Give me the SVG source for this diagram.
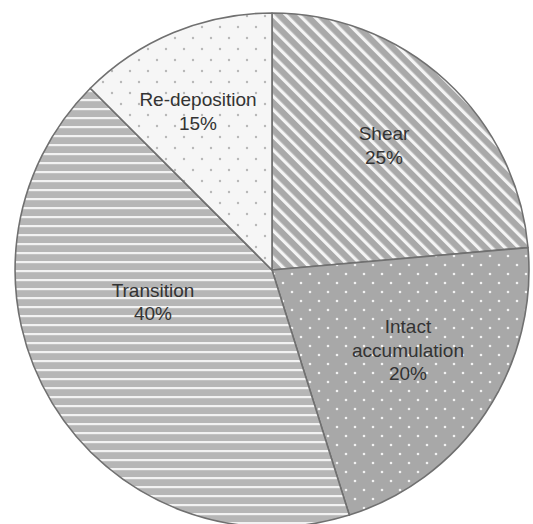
<svg xmlns="http://www.w3.org/2000/svg" width="533" height="524" viewBox="0 0 533 524">
<style>
.slice{stroke:#707070;stroke-width:1.6;stroke-linejoin:round}
.lbl{font-family:"Liberation Sans",Arial,sans-serif;font-size:19px;fill:#333;text-anchor:middle}
</style>
<defs>
<pattern id="pShear" patternUnits="userSpaceOnUse" width="9.5" height="20" patternTransform="rotate(-45)">
<rect width="9.5" height="20" fill="#a9a9a9"/>
<rect x="0" width="3.2" height="20" fill="#f4f4f4"/>
</pattern>
<pattern id="pTrans" patternUnits="userSpaceOnUse" width="20" height="9">
<rect width="20" height="9" fill="#b6b6b6"/>
<rect y="0" width="20" height="2.2" fill="#f2f2f2"/>
</pattern>
<pattern id="pIntact" patternUnits="userSpaceOnUse" width="18" height="18">
<rect width="18" height="18" fill="#a8a8a8"/>
<circle cx="4" cy="4" r="1.3" fill="#f2f2f2"/>
<circle cx="13" cy="13" r="1.3" fill="#f2f2f2"/>
</pattern>
<pattern id="pRedep" patternUnits="userSpaceOnUse" width="18" height="22">
<rect width="18" height="22" fill="#f6f6f6"/>
<circle cx="4" cy="5" r="1.2" fill="#b8b8b8"/>
<circle cx="13" cy="16" r="1.2" fill="#b8b8b8"/>
</pattern>
</defs>
<rect width="533" height="524" fill="#ffffff"/>
<g id="shear">
<path class="slice" fill="url(#pShear)" d="M272,270 L272,13 A257,257 0 0 1 528,247.6 Z"/>
<text class="lbl" x="384" y="140">Shear</text>
<text class="lbl" x="384" y="164">25%</text>
</g>
<g id="intact">
<path class="slice" fill="url(#pIntact)" d="M272,270 L528,247.6 A257,257 0 0 1 349.3,515.1 Z"/>
<text class="lbl" x="408" y="333">Intact</text>
<text class="lbl" x="408" y="356.5">accumulation</text>
<text class="lbl" x="408" y="380">20%</text>
</g>
<g id="transition">
<path class="slice" fill="url(#pTrans)" d="M272,270 L349.3,515.1 A257,257 0 0 1 90.3,88.3 Z"/>
<text class="lbl" x="153" y="296.5">Transition</text>
<text class="lbl" x="153" y="320">40%</text>
</g>
<g id="redeposition">
<path class="slice" fill="url(#pRedep)" d="M272,270 L90.3,88.3 A257,257 0 0 1 272,13 Z"/>
<text class="lbl" x="198" y="106">Re-deposition</text>
<text class="lbl" x="198" y="130">15%</text>
</g>
<g id="connectors"></g>
</svg>
